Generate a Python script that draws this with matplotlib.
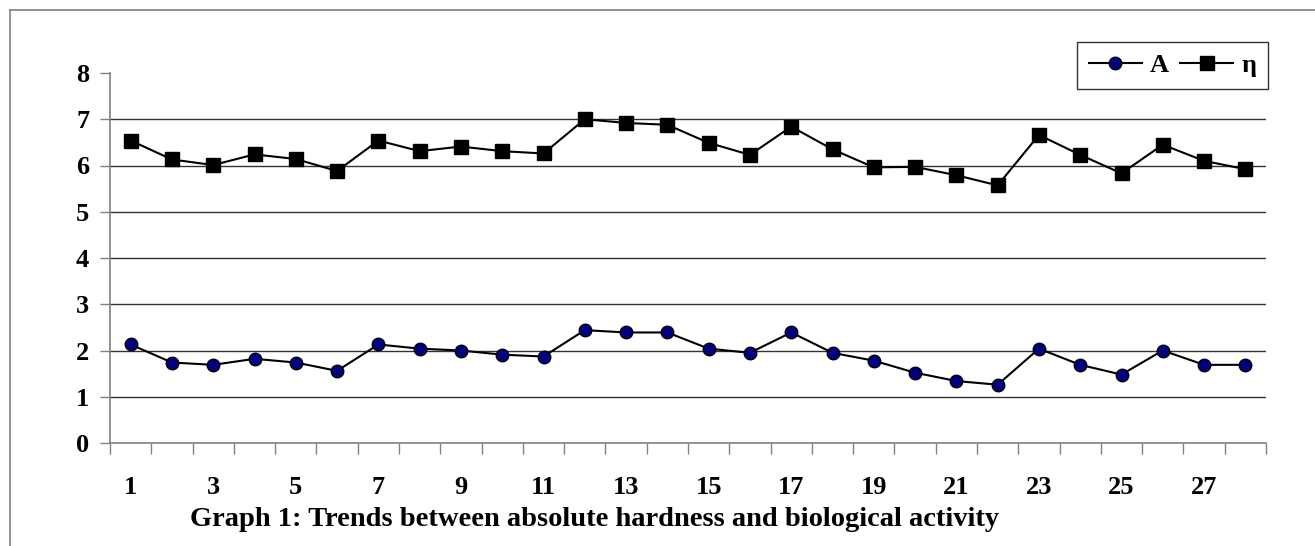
import matplotlib
matplotlib.use("Agg")
import matplotlib.pyplot as plt
from matplotlib.lines import Line2D
import numpy as np

categories = list(range(1, 29))
A_values = [2.13, 1.74, 1.69, 1.82, 1.74, 1.56, 2.13, 2.04, 2.00, 1.91,
            1.87, 2.44, 2.39, 2.39, 2.04, 1.95, 2.39, 1.95, 1.78, 1.52,
            1.34, 1.26, 2.04, 1.69, 1.48, 2.00, 1.69, 1.69]
eta_values = [6.54, 6.13, 6.01, 6.24, 6.14, 5.88, 6.54, 6.31, 6.41, 6.31,
              6.26, 7.00, 6.92, 6.88, 6.49, 6.23, 6.84, 6.35, 5.96, 5.97,
              5.79, 5.57, 6.66, 6.23, 5.83, 6.45, 6.10, 5.92]
y_ticks = [0, 1, 2, 3, 4, 5, 6, 7, 8]
x_tick_labels = [str(c) for c in categories if c % 2 == 1]
title = "Graph 1: Trends between absolute hardness and biological activity"

W, H = 1315, 546
fig = plt.figure(figsize=(W / 100, H / 100), dpi=100)
fig.patch.set_facecolor("white")

font = "Liberation Serif"

ax = fig.add_axes([110 / W, 103 / H, (1266 - 110) / W, (443 - 73) / H])
ax.set_xlim(0.5, 28.5)
ax.set_ylim(0, 8)

for y in y_ticks[1:-1]:
    ax.axhline(y, color="#333333", lw=1.0, zorder=1)

ax.plot(categories, A_values, color="black", lw=1.5, marker="o", ms=9,
        mfc="#000080", mec="black", mew=1.0, label="A", zorder=3)
ax.plot(categories, eta_values, color="black", lw=1.5, marker="s", ms=10,
        mfc="black", mec="black", label="η", zorder=3)

for s in ["top", "right"]:
    ax.spines[s].set_visible(False)
for s in ["left", "bottom"]:
    ax.spines[s].set_color("#808080")
    ax.spines[s].set_linewidth(1.2)

ax.set_yticks(y_ticks)
ax.set_yticklabels([str(v) for v in y_ticks], fontfamily=font,
                   fontweight="bold", fontsize=19)
ax.tick_params(axis="y", direction="out", length=7, width=1.0,
               color="#808080", pad=8)

boundaries = np.arange(0.5, 29.0, 1.0)
ax.set_xticks(boundaries)
ax.set_xticklabels([])
ax.tick_params(axis="x", which="major", direction="out", length=8,
               width=1.0, color="#808080")
ax.set_xticks([c for c in categories if c % 2 == 1], minor=True)
ax.set_xticklabels(x_tick_labels, minor=True, fontfamily=font,
                   fontweight="bold", fontsize=19)
ax.tick_params(axis="x", which="minor", length=0, pad=24)

fig.text(594 / W, 1 - 520 / H, title, ha="center", va="center",
         fontfamily=font, fontweight="bold", fontsize=20.5)

leg = ax.legend(loc="upper right", bbox_to_anchor=(1268 / W, 1 - 41.7 / H),
                bbox_transform=fig.transFigure, ncol=2, frameon=True,
                fancybox=False, edgecolor="black", handlelength=2.0,
                columnspacing=0.45, handletextpad=0.3, borderpad=0.45,
                borderaxespad=0.0,
                prop={"family": font, "weight": "bold", "size": 19})
leg.get_frame().set_linewidth(1.0)

fig.add_artist(Line2D([10 / W, 1.0], [1 - 9.5 / H, 1 - 9.5 / H],
                      transform=fig.transFigure, color="#808080", lw=1.2))
fig.add_artist(Line2D([10 / W, 10 / W], [1 - 9.5 / H, 0.0],
                      transform=fig.transFigure, color="#808080", lw=1.2))

fig.savefig("out.png", dpi=100, facecolor="white")
